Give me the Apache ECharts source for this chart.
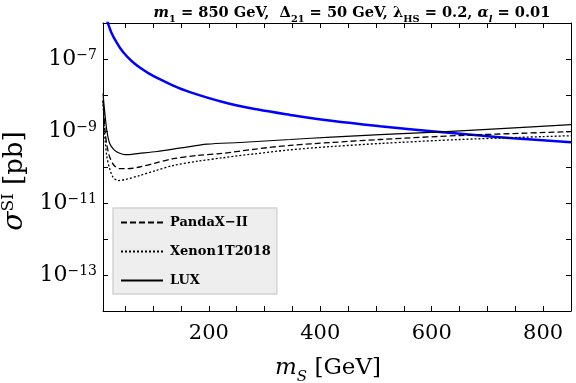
<!DOCTYPE html>
<html>
<head>
<meta charset="utf-8">
<script src="https://cdn.jsdelivr.net/npm/echarts@6/dist/echarts.min.js"></script>
<style>html,body{margin:0;padding:0;background:#fff}#c{width:576px;height:383px}</style>
</head>
<body>
<div id="c"></div>
<script>
// ---- data ----
const blueX = [15, 17, 19, 21, 23, 26, 30, 35, 41, 48, 56, 66, 78, 92, 107, 135, 166, 225, 286, 346, 420, 507, 615, 687, 746, 850];
const blueY = [1.45e-6, 1.2e-6, 9.8e-7, 7.9e-7, 6.5e-7, 5.0e-7, 3.8e-7, 2.8e-7, 2.0e-7, 1.45e-7, 1.06e-7, 7.6e-8, 5.5e-8, 4.0e-8, 3.0e-8, 1.86e-8, 1.2e-8, 6.4e-9, 4.0e-9, 2.8e-9, 1.92e-9, 1.36e-9, 9.4e-10, 7.5e-10, 6.3e-10, 4.85e-10];

const luxX = [10, 13, 17, 22, 30, 40, 50, 75, 107, 150, 197, 256, 346, 420, 507, 627, 740, 850];
const luxY = [1.1e-8, 3.5e-9, 1.0e-9, 4.5e-10, 3.0e-10, 2.4e-10, 2.2e-10, 2.4e-10, 2.7e-10, 3.4e-10, 4.3e-10, 4.8e-10, 5.8e-10, 6.8e-10, 7.9e-10, 9.6e-10, 1.2e-9, 1.5e-9];

const pandaX = [10, 12, 14, 17, 22, 30, 40, 55, 76, 105, 136, 180, 225, 280, 346, 420, 507, 650, 850];
const pandaY = [7e-9, 2.5e-9, 9e-10, 4e-10, 1.9e-10, 1.1e-10, 9e-11, 9e-11, 1.0e-10, 1.3e-10, 1.7e-10, 2.1e-10, 2.4e-10, 3.1e-10, 4.0e-10, 4.8e-10, 5.8e-10, 7.5e-10, 9.6e-10];

const xenonX = [10, 12, 14, 17, 22, 28, 37, 50, 76, 105, 136, 180, 225, 280, 346, 420, 507, 650, 850];
const xenonY = [7e-9, 1.5e-9, 5e-10, 1.9e-10, 9e-11, 5.2e-11, 4.2e-11, 4.5e-11, 5.8e-11, 8e-11, 1.1e-10, 1.45e-10, 1.8e-10, 2.3e-10, 3.0e-10, 3.7e-10, 4.5e-10, 5.8e-10, 7.4e-10];

const legendNames = ['PandaX\u2212II', 'Xenon1T2018', 'LUX'];
const xTickValues = [50, 100, 150, 200, 250, 300, 350, 400, 450, 500, 550, 600, 650, 700, 750, 800, 850];
const xLabelValues = [200, 400, 600, 800];
const yLabelExponents = [-13, -11, -9, -7];
// ---------------------------------------

const zip = (xs, ys) => xs.map((x, i) => [x, ys[i]]);
const SERIF = '"DejaVu Serif", "Liberation Serif", serif';

const chart = echarts.init(document.getElementById('c'), null, {renderer: 'canvas'});

const axisCommonX = {
  type: 'value', min: 10, max: 850,
  axisLine: {show: true, lineStyle: {color: '#000', width: 1}},
  axisTick: {show: true, inside: true, length: 5, customValues: xTickValues, lineStyle: {color: '#000'}},
  splitLine: {show: false}
};
const axisCommonY = {
  type: 'log', logBase: 10, min: 1e-14, max: 1e-6, splitNumber: 8,
  axisLine: {show: true, lineStyle: {color: '#000', width: 1}},
  axisTick: {show: true, inside: true, length: 5, lineStyle: {color: '#000'}},
  splitLine: {show: false}
};

const option = {
  backgroundColor: '#fff',
  animation: false,
  title: {
    text: '{mi|m}{bs|1}{b| = 850 GeV,  Δ}{bs|21}{b| = 50 GeV, λ}{bs|HS}{b| = 0.2, }{mi|α}{mis|l}{b| = 0.01}',
    left: 347, top: 1, textAlign: 'center',
    textStyle: {
      rich: {
        b: {fontFamily: SERIF, fontWeight: 'bold', fontSize: 14.6, color: '#000', verticalAlign: 'bottom'},
        mi: {fontFamily: SERIF, fontWeight: 'bold', fontStyle: 'italic', fontSize: 14.6, color: '#000', verticalAlign: 'bottom'},
        bs: {fontFamily: SERIF, fontWeight: 'bold', fontSize: 9.8, color: '#000', verticalAlign: 'bottom', padding: [0, 0, -3, 0]},
        mis: {fontFamily: SERIF, fontWeight: 'bold', fontStyle: 'italic', fontSize: 9.8, color: '#000', verticalAlign: 'bottom', padding: [0, 0, -3, 0]}
      }
    }
  },
  grid: {left: 103, right: 5, top: 23, bottom: 72, containLabel: false, outerBoundsMode: 'none'},
  legend: {
    data: legendNames,
    orient: 'vertical',
    left: 113, top: 208,
    backgroundColor: '#eeeeee',
    borderColor: '#d4d4d4', borderWidth: 1.5, borderRadius: 0,
    padding: [7, 6, 6, 7],
    itemGap: 14,
    itemWidth: 42, itemHeight: 15,
    itemStyle: {opacity: 0},
    textStyle: {fontFamily: SERIF, fontWeight: 'bold', fontSize: 13, color: '#000', padding: [0, 0, 0, 2], lineHeight: 15}
  },
  xAxis: [
    Object.assign({}, axisCommonX, {
      position: 'bottom',
      axisLabel: {show: true, customValues: xLabelValues, fontFamily: SERIF, fontSize: 21, color: '#000', margin: 12},
      name: '{mi|m}{sub|S}{r| [GeV]}',
      nameLocation: 'middle', nameGap: 46,
      nameTextStyle: {
        padding: [0, 18, 0, 0],
        rich: {
          mi: {fontFamily: SERIF, fontStyle: 'italic', fontSize: 23, color: '#000', verticalAlign: 'bottom'},
          sub: {fontFamily: SERIF, fontStyle: 'italic', fontSize: 15, color: '#000', verticalAlign: 'bottom', padding: [0, 0, -5, 0]},
          r: {fontFamily: SERIF, fontSize: 23, color: '#000', verticalAlign: 'bottom'}
        }
      }
    }),
    Object.assign({}, axisCommonX, {position: 'top', axisLabel: {show: false}})
  ],
  yAxis: [
    Object.assign({}, axisCommonY, {
      position: 'left',
      axisLabel: {
        show: true, margin: 6,
        formatter: function (v) {
          const e = Math.round(Math.log10(v));
          if (yLabelExponents.indexOf(e) < 0) return '';
          return '{b|10}{s|\u2212' + Math.abs(e) + '}';
        },
        rich: {
          b: {fontFamily: SERIF, fontSize: 22, color: '#000', verticalAlign: 'bottom'},
          s: {fontFamily: SERIF, fontSize: 14, color: '#000', verticalAlign: 'top'}
        }
      },
      name: '{mi|σ}{sup|SI}{r| [pb]}',
      nameLocation: 'middle', nameGap: 64, nameRotate: 90,
      nameTextStyle: {
        padding: [0, 28, 0, 0],
        rich: {
          mi: {fontFamily: SERIF, fontStyle: 'italic', fontSize: 28, color: '#000', verticalAlign: 'bottom'},
          sup: {fontFamily: SERIF, fontSize: 17, color: '#000', verticalAlign: 'top'},
          r: {fontFamily: SERIF, fontSize: 26, color: '#000', verticalAlign: 'bottom'}
        }
      }
    }),
    Object.assign({}, axisCommonY, {position: 'right', axisLabel: {show: false}})
  ],
  series: [
    {
      name: 'prediction', type: 'line', xAxisIndex: 0, yAxisIndex: 0,
      data: zip(blueX, blueY), symbol: 'none', smooth: 0.4, clip: true,
      lineStyle: {color: '#0000ff', width: 2.5}, itemStyle: {color: '#0000ff'}
    },
    {
      name: legendNames[0], type: 'line', xAxisIndex: 0, yAxisIndex: 0,
      data: zip(pandaX, pandaY), symbol: 'none', smooth: 0.3, clip: true,
      lineStyle: {color: '#000', width: 1.3, type: [6, 3]}, itemStyle: {color: '#000'}
    },
    {
      name: legendNames[1], type: 'line', xAxisIndex: 0, yAxisIndex: 0,
      data: zip(xenonX, xenonY), symbol: 'none', smooth: 0.3, clip: true,
      lineStyle: {color: '#000', width: 1.3, type: [2, 2]}, itemStyle: {color: '#000'}
    },
    {
      name: legendNames[2], type: 'line', xAxisIndex: 0, yAxisIndex: 0,
      data: zip(luxX, luxY), symbol: 'none', smooth: 0.3, clip: true,
      lineStyle: {color: '#000', width: 1.2}, itemStyle: {color: '#000'}
    }
  ]
};
chart.setOption(option);
</script>
</body>
</html>
